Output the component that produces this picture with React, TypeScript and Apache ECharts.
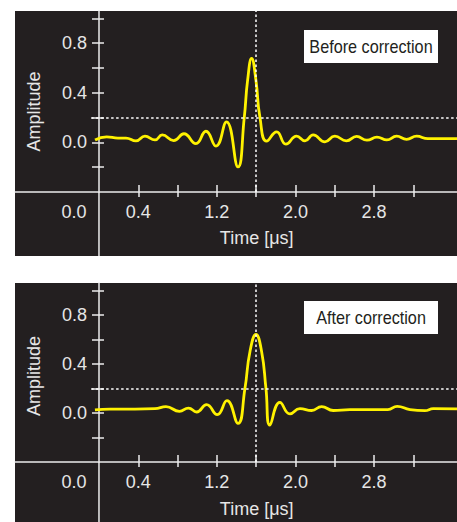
import React, { useEffect, useRef } from "react";
import * as echarts from "echarts";

// ---- data ----
const timeBefore = [
  -0.04, 0.078, 0.193, 0.275, 0.377, 0.468, 0.57, 0.644, 0.76, 0.865, 0.987, 1.089, 1.191, 1.298,
  1.415, 1.479, 1.513, 1.554, 1.598, 1.639, 1.707, 1.809, 1.903, 2.012, 2.097, 2.181, 2.3, 2.402,
  2.519, 2.623, 2.728, 2.83, 2.931, 3.03, 3.132, 3.234, 3.349, 3.645,
];
const ampBefore = [
  0.02, 0.045, 0.035, 0.035, 0.013, 0.05, 0.02, 0.06, 0.015, 0.07, -0.01, 0.09, -0.03, 0.166,
  -0.198, 0.2, 0.5, 0.677, 0.5, 0.2, 0.01, 0.085, -0.014, 0.05, 0.013, 0.06, 0.005, 0.05,
  0.013, 0.048, 0.018, 0.042, 0.02, 0.05, 0.025, 0.05, 0.03, 0.03,
];
const timeAfter = [
  -0.041, 0.112, 0.366, 0.57, 0.682, 0.819, 0.911, 0.994, 1.096, 1.204, 1.303, 1.415, 1.486,
  1.537, 1.598, 1.656, 1.7, 1.74, 1.842, 1.944, 2.046, 2.165, 2.267, 2.385, 2.555, 2.941, 3.036,
  3.166, 3.318, 3.403, 3.645,
];
const ampAfter = [
  0.025, 0.032, 0.032, 0.035, 0.052, 0.013, 0.04, 0.008, 0.068, -0.014, 0.1, -0.085, 0.2,
  0.5, 0.64, 0.5, 0.2, -0.1, 0.087, -0.008, 0.035, 0.02, 0.052, 0.02, 0.027, 0.027, 0.054,
  0.027, 0.019, 0.035, 0.033,
];
const xTickValues = [0.4, 0.8, 1.2, 1.6, 2.0, 2.4, 2.8, 3.2];
const xLabelValues = [0, 0.4, 1.2, 2.0, 2.8];
const yTickValues = [-0.2, 0, 0.2, 0.4, 0.6, 0.8, 1.0];
const yLabelValues = [0, 0.4, 0.8];
const panelTitles = ["Before correction", "After correction"];
const markerTime = 1.6;
const thresholdAmp = 0.2;
const xAxisTitle = "Time [μs]";
const yAxisTitle = "Amplitude";

// ---- layout / style ----
const W = 457;
const H = 522;
const X_MIN = -0.855;
const X_MAX = 3.645;
const Y_MIN = -0.4;
const Y_MAX = 1.06;
const PANEL_LEFT = 15;
const PANEL_W = W - PANEL_LEFT;
const panels = [
  { top: 11, gridH: 181, bottom: 256, ampY: 111.5, timeY: 237.5, boxTop: 30 },
  { top: 283, gridH: 179, bottom: 522, ampY: 376, timeY: 508.5, boxTop: 301 },
];
const BG = "#231f20";
const AX = "#ececec";
const LBL = "#e6e6e6";
const LINE = "#fff200";
const FONT = '"Liberation Sans", Arial, Helvetica, sans-serif';

const axisX0 = PANEL_LEFT + ((0 - X_MIN) / (X_MAX - X_MIN)) * PANEL_W;
const yAxisOffset = -(axisX0 - PANEL_LEFT);

function buildOption() {
  const grids: any[] = [];
  const xAxes: any[] = [];
  const yAxes: any[] = [];
  const series: any[] = [];
  const graphics: any[] = [];
  const datasets = [
    [timeBefore, ampBefore],
    [timeAfter, ampAfter],
  ];

  panels.forEach((p, g) => {
    grids.push({
      left: PANEL_LEFT,
      width: PANEL_W,
      top: p.top,
      height: p.gridH,
      containLabel: false,
      outerBoundsMode: "none",
    });
    const axisLineStyle = { color: AX, width: 1.5 };
    xAxes.push({
      type: "value",
      gridIndex: g,
      min: X_MIN,
      max: X_MAX,
      position: "bottom",
      axisLine: { show: true, onZero: false, lineStyle: axisLineStyle },
      axisTick: { show: true, inside: false, length: 5, customValues: xTickValues, lineStyle: axisLineStyle },
      axisLabel: {
        show: true,
        customValues: xLabelValues,
        margin: 11,
        color: LBL,
        fontSize: 18,
        fontFamily: FONT,
        formatter: (v: number) => (v === 0 ? "{z|0.0}" : v.toFixed(1)),
        rich: { z: { padding: [0, 50, 0, 0], color: LBL, fontSize: 18, fontFamily: FONT } },
      },
      splitLine: { show: false },
    });
    xAxes.push({
      type: "value",
      gridIndex: g,
      min: X_MIN,
      max: X_MAX,
      position: "bottom",
      axisLine: { show: false, onZero: false },
      axisTick: { show: true, inside: true, length: 7, customValues: xTickValues, lineStyle: axisLineStyle },
      axisLabel: { show: false },
      splitLine: { show: false },
    });
    yAxes.push({
      type: "value",
      gridIndex: g,
      min: Y_MIN,
      max: Y_MAX,
      position: "left",
      offset: yAxisOffset,
      axisLine: { show: true, onZero: false, lineStyle: axisLineStyle },
      axisTick: { show: true, inside: false, length: 7, customValues: yTickValues, lineStyle: axisLineStyle },
      axisLabel: {
        show: true,
        customValues: yLabelValues,
        margin: 12,
        color: LBL,
        fontSize: 18,
        fontFamily: FONT,
        formatter: (v: number) => v.toFixed(1),
      },
      splitLine: { show: false },
    });
    yAxes.push({
      type: "value",
      gridIndex: g,
      min: Y_MIN,
      max: Y_MAX,
      position: "left",
      offset: yAxisOffset,
      axisLine: { show: false, onZero: false },
      axisTick: { show: true, inside: true, length: 5, customValues: yTickValues, lineStyle: axisLineStyle },
      axisLabel: { show: false },
      splitLine: { show: false },
    });

    const [ts, vs] = datasets[g];
    series.push({
      type: "line",
      xAxisIndex: g * 2,
      yAxisIndex: g * 2,
      data: ts.map((t, i) => [t, vs[i]]),
      smooth: 0.5,
      symbol: "none",
      z: 3,
      lineStyle: { color: LINE, width: 2.8 },
      markLine: {
        silent: true,
        symbol: "none",
        label: { show: false },
        lineStyle: { color: "#ffffff", type: [2.5, 2.5], width: 1.5 },
        data: [
          { xAxis: markerTime },
          [{ coord: [-0.08, thresholdAmp] }, { coord: [X_MAX, thresholdAmp] }],
        ],
      },
    });

    // panel background
    graphics.push({
      type: "rect",
      z: -10,
      shape: { x: PANEL_LEFT, y: p.top, width: PANEL_W, height: p.bottom - p.top },
      style: { fill: BG },
      silent: true,
    });
    // y-axis line continuing below the time axis
    graphics.push({
      type: "line",
      z: 5,
      shape: { x1: axisX0, y1: p.top + p.gridH, x2: axisX0, y2: p.bottom },
      style: { stroke: AX, lineWidth: 1.5 },
      silent: true,
    });
    graphics.push({
      type: "text",
      z: 5,
      x: 34,
      y: p.ampY,
      rotation: Math.PI / 2,
      style: { text: yAxisTitle, align: "center", verticalAlign: "middle", fill: LBL, font: `18px ${FONT}` },
      silent: true,
    });
    graphics.push({
      type: "text",
      z: 5,
      x: 256.7,
      y: p.timeY,
      style: { text: xAxisTitle, align: "center", verticalAlign: "middle", fill: LBL, font: `18px ${FONT}` },
      silent: true,
    });
    graphics.push({
      type: "rect",
      z: 5,
      shape: { x: 304, y: p.boxTop, width: 134, height: 33 },
      style: { fill: "#ffffff" },
      silent: true,
    });
    graphics.push({
      type: "text",
      z: 6,
      x: 371,
      y: p.boxTop + 17,
      scaleX: 0.9,
      style: { text: panelTitles[g], align: "center", verticalAlign: "middle", fill: "#231f20", font: `18px ${FONT}` },
      silent: true,
    });
  });

  return {
    animation: false,
    backgroundColor: "#ffffff",
    grid: grids,
    xAxis: xAxes,
    yAxis: yAxes,
    series,
    graphic: { elements: graphics },
  };
}

export default function App() {
  const ref = useRef<HTMLDivElement>(null);
  useEffect(() => {
    if (!ref.current) return;
    const chart = echarts.init(ref.current, null, { renderer: "svg" });
    chart.setOption(buildOption() as any);
    return () => chart.dispose();
  }, []);
  return (
    <div
      ref={ref}
      style={{ position: "absolute", left: 0, top: 0, width: W, height: H }}
    />
  );
}
